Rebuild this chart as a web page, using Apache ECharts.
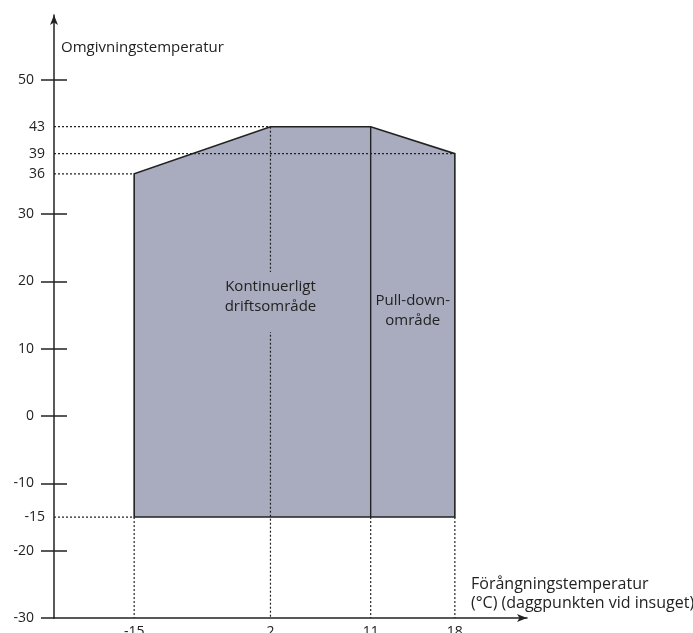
<!DOCTYPE html>
<html>
<head>
<meta charset="utf-8">
<script src="https://cdn.jsdelivr.net/npm/echarts@6/dist/echarts.min.js"></script>
<style>
html,body{margin:0;padding:0;background:#fff;}
#chart{width:693px;height:633px;}
</style>
</head>
<body>
<div id="chart"></div>
<script>
// ---- data ----
const xTicks = [-15, 2, 11, 18];
const yTicks = [50, 30, 20, 10, 0, -10, -20, -30];
const yMarkedTicks = [43, 39, 36, -15];
// operating envelope outline (evaporating temp, ambient temp)
const envelopeX = [-15, -15, 2, 11, 18, 18];
const envelopeY = [-15, 36, 43, 43, 39, -15];
// split between continuous and pull-down regions
const splitX = [11, 11];
const splitY = [43, -15];
// dotted guide lines
const hGuideY = [43, 39, 36, -15];
const hGuideToX = [2, 18, -15, -15];
const vGuideX = [-15, 2, 11, 18];
const vGuideFromY = [-15, 43, -15, -15];
// region labels
const regionNames = ['Kontinuerligt\ndriftsområde', 'Pull-down-\nområde'];
const regionX = [2, 14.5];
const regionY = [17.7, 15.7];
const yAxisTitle = 'Omgivningstemperatur';
const xAxisTitle = 'Förångningstemperatur\n(°C) (daggpunkten vid insuget)';

// ---- schematic (non-uniform) x scale used by the original drawing ----
const X_DISPLAY = [-15, 2, 14.5, 25];
function toX(v) {
  const n = xTicks.length;
  let i = 0;
  if (v <= xTicks[0]) i = 0;
  else if (v >= xTicks[n - 1]) i = n - 2;
  else { while (v > xTicks[i + 1]) i++; }
  const t = (v - xTicks[i]) / (xTicks[i + 1] - xTicks[i]);
  return X_DISPLAY[i] + t * (X_DISPLAY[i + 1] - X_DISPLAY[i]);
}
const X_MIN = -25, X_MAX = 34;
const Y_MIN = -30, Y_MAX = 59.6;

const FONT = '"Open Sans", "Noto Sans", sans-serif';
const TXT = '#222';
const INK = '#222';
const FILL = '#a9acbf';

const chart = echarts.init(document.getElementById('chart'));

const baseY = {
  type: 'value', min: Y_MIN, max: Y_MAX, position: 'left',
  splitLine: { show: false },
  axisLine: { show: false, onZero: false },
  axisTick: { show: false },
  axisLabel: { show: false }
};

const series = [];
// polygon
series.push({
  type: 'custom',
  coordinateSystem: 'cartesian2d',
  xAxisIndex: 0, yAxisIndex: 0,
  data: envelopeX.map((x, i) => [toX(x), envelopeY[i]]),
  encode: { x: 0, y: 1 },
  silent: true,
  z: 1,
  renderItem: function (params, api) {
    if (params.dataIndex !== 0) return null;
    const pts = envelopeX.map((x, i) => api.coord([toX(x), envelopeY[i]]));
    return {
      type: 'polygon',
      shape: { points: pts },
      style: { fill: FILL, stroke: INK, lineWidth: 1.6 }
    };
  }
});
// dotted guides
const dotted = { color: INK, width: 1.2, type: [2, 2] };
hGuideY.forEach((y, i) => {
  series.push({
    type: 'line', symbol: 'none', silent: true, z: 3,
    lineStyle: dotted,
    data: [[X_MIN, y], [toX(hGuideToX[i]), y]]
  });
});
vGuideX.forEach((x, i) => {
  series.push({
    type: 'line', symbol: 'none', silent: true, z: 3,
    lineStyle: dotted,
    data: [[toX(x), vGuideFromY[i]], [toX(x), Y_MIN]]
  });
});
// solid split line
series.push({
  type: 'line', symbol: 'none', silent: true, z: 4,
  lineStyle: { color: INK, width: 1.4, type: 'solid' },
  data: splitX.map((x, i) => [toX(x), splitY[i]])
});
// region labels (with a narrow fill-coloured backing that interrupts the guide line)
series.push({
  type: 'custom',
  coordinateSystem: 'cartesian2d',
  silent: true,
  z: 10,
  data: regionNames.map((n, i) => [toX(regionX[i]), regionY[i]]),
  encode: { x: 0, y: 1 },
  renderItem: function (params, api) {
    const p = api.coord([api.value(0), api.value(1)]);
    return {
      type: 'group',
      children: [
        { type: 'rect', shape: { x: p[0] - 6, y: p[1] - 25, width: 12, height: 60 }, style: { fill: FILL } },
        {
          type: 'text', x: p[0], y: p[1],
          style: {
            text: regionNames[params.dataIndex],
            fontFamily: FONT, fontSize: 15, fill: TXT, lineHeight: 20,
            align: 'center', verticalAlign: 'middle'
          }
        }
      ]
    };
  }
});

chart.setOption({
  animation: false,
  grid: { left: 54, right: 166, top: 15, bottom: 15, containLabel: false, outerBoundsMode: 'none' },
  xAxis: {
    type: 'value', min: X_MIN, max: X_MAX,
    splitLine: { show: false },
    axisLine: { show: true, onZero: false, lineStyle: { color: INK, width: 1.5 }, symbol: ['none', 'arrow'], symbolSize: [6, 10] },
    axisTick: { show: false },
    axisLabel: {
      customValues: xTicks.map(toX),
      formatter: function (v) { const i = X_DISPLAY.findIndex(d => Math.abs(d - v) < 1e-6); return i >= 0 ? String(xTicks[i]) : ''; },
      fontFamily: FONT, fontSize: 14, color: TXT, margin: 7
    },
    name: xAxisTitle,
    nameLocation: 'end',
    nameGap: -56,
    nameTextStyle: { fontFamily: FONT, fontSize: 16, color: TXT, align: 'left', verticalAlign: 'bottom', lineHeight: 19, padding: [0, 0, 5, 0] }
  },
  yAxis: [
    {
      type: 'value', min: Y_MIN, max: Y_MAX, position: 'left',
      splitLine: { show: false },
      axisLine: { show: true, onZero: false, lineStyle: { color: INK, width: 1.5 }, symbol: ['none', 'arrow'], symbolSize: [6, 10] },
      axisTick: { show: true, customValues: yTicks, length: 13, lineStyle: { color: INK, width: 1.5 } },
      axisLabel: { customValues: yTicks, fontFamily: FONT, fontSize: 14, color: TXT, margin: 20 },
      name: yAxisTitle,
      nameLocation: 'end',
      nameGap: -33,
      nameTextStyle: { fontFamily: FONT, fontSize: 15, color: TXT, align: 'left', verticalAlign: 'middle', padding: [0, 0, 0, 7] }
    },
    Object.assign({}, baseY, {
      axisTick: { show: true, inside: true, customValues: yTicks.filter(v => v !== Y_MIN), length: 13, lineStyle: { color: INK, width: 1.5 } }
    }),
    Object.assign({}, baseY, {
      axisLabel: { show: true, customValues: yMarkedTicks, fontFamily: FONT, fontSize: 14, color: TXT, margin: 9 }
    })
  ],
  series: series
});
</script>
</body>
</html>
